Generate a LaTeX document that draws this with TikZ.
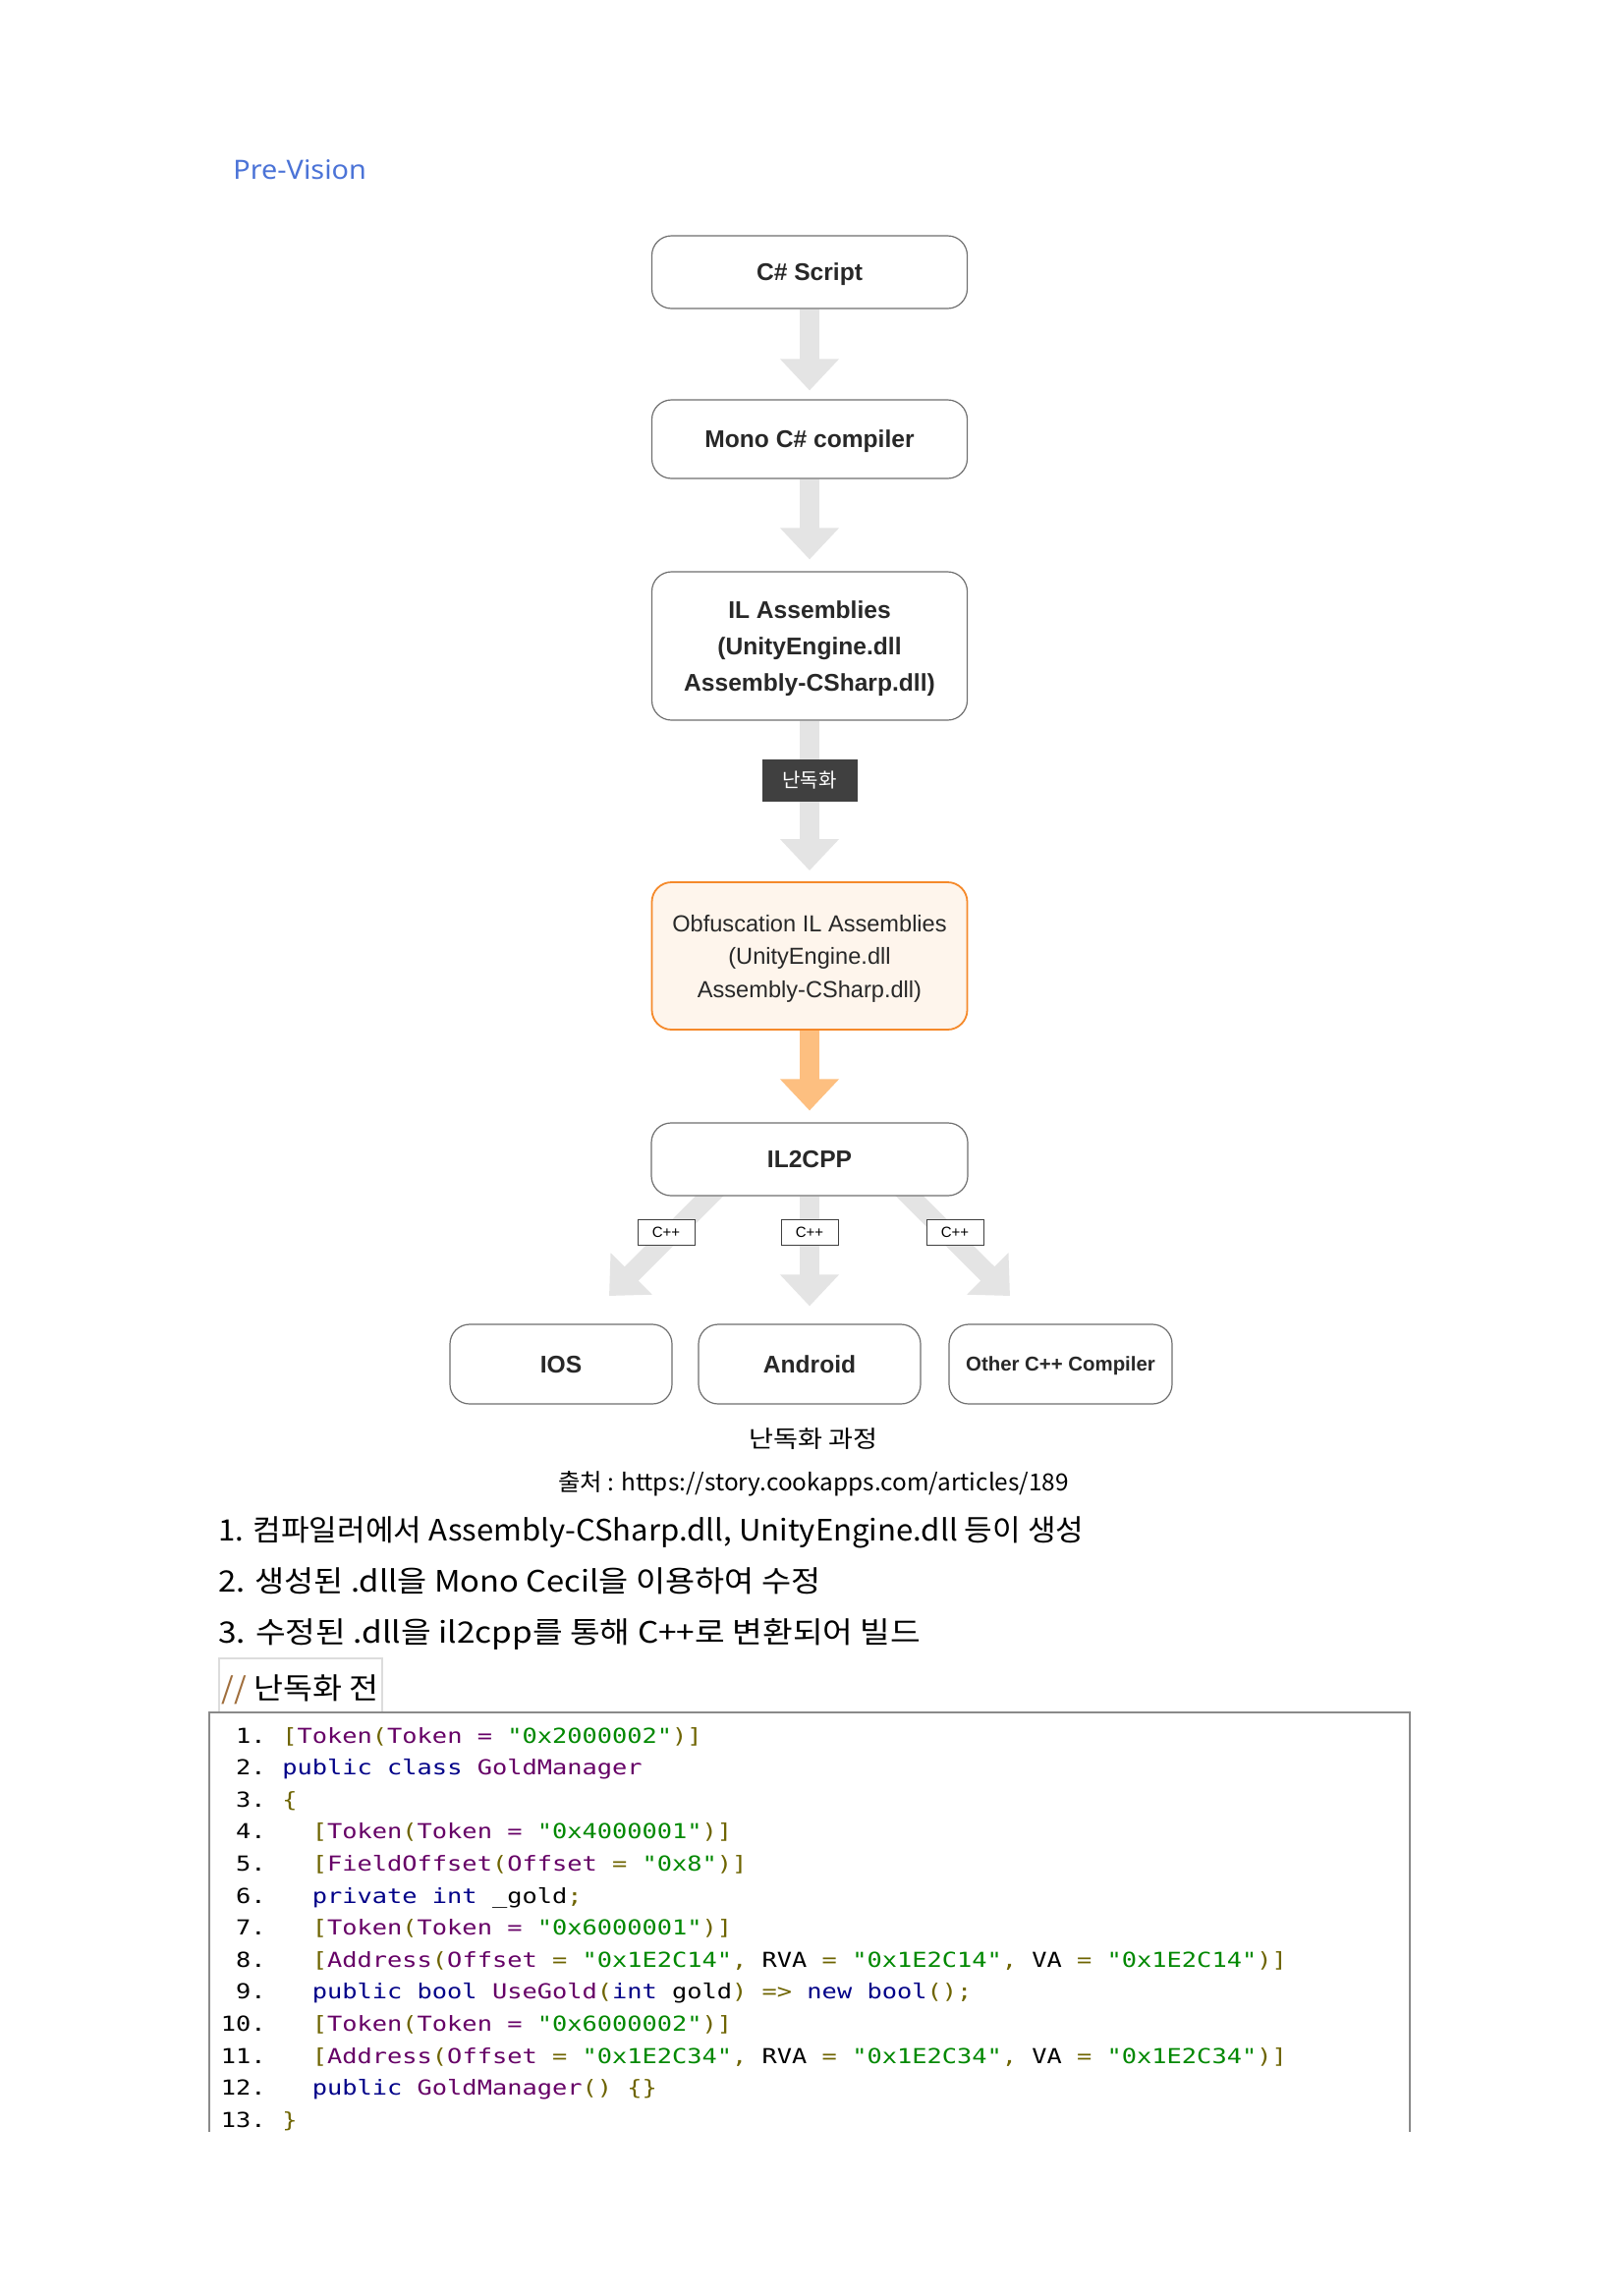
\documentclass[tikz,border=0pt]{standalone}
\usepackage{fontspec}
\usepackage{graphicx}
\usetikzlibrary{arrows.meta,backgrounds,calc}
\setmainfont{Liberation Sans}
\newfontfamily\krfont{Noto Sans CJK KR}
\newfontfamily\codefont{DejaVu Sans Mono}
\newfontfamily\prefont{Noto Sans}
\definecolor{arrgray}{RGB}{228,228,228}
\definecolor{orangearr}{RGB}{253,191,128}
\definecolor{orangeb}{RGB}{245,137,42}
\definecolor{orangef}{RGB}{254,245,236}
\definecolor{boxgray}{RGB}{112,112,112}
\definecolor{textdark}{RGB}{40,40,40}
\definecolor{labdark}{RGB}{64,64,64}
\definecolor{preblue}{RGB}{75,115,215}
\definecolor{codegray}{RGB}{138,138,138}
\definecolor{lightframe}{RGB}{220,220,220}
\definecolor{slashbrown}{RGB}{160,110,60}
\definecolor{ckw}{RGB}{0,0,136}
\definecolor{cpu}{RGB}{102,0,102}
\definecolor{col}{RGB}{110,100,0}
\definecolor{cst}{RGB}{0,136,0}
\newcommand{\cK}[1]{\textcolor{ckw}{#1}}
\newcommand{\cP}[1]{\textcolor{cpu}{#1}}
\newcommand{\cO}[1]{\textcolor{col}{#1}}
\newcommand{\cS}[1]{\textcolor{cst}{#1}}
\newcommand{\cl}[1]{\scalebox{1.207}[1]{\codefont\fontsize{10.5}{12}\selectfont #1}}
\newsavebox\fitbox
\newdimen\fitdim
\newcommand{\fitw}[2]{\sbox\fitbox{#2}\fitdim=\wd\fitbox\pgfmathsetmacro\fitr{#1/\fitdim}\scalebox{\fitr}[1]{\usebox\fitbox}}
\tikzset{
  box/.style={draw=boxgray, line width=0.6pt, rounded corners=10pt, fill=white, align=center,
    inner sep=0pt, text depth=0pt, text=textdark, font=\fontsize{12.3}{18.3}\selectfont\bfseries, minimum width=160.5pt},
  garrow/.style={draw=arrgray, line width=10pt, -{Triangle[width=29pt,length=16pt]}},
  oarrow/.style={draw=orangearr, line width=10pt, -{Triangle[width=29pt,length=16pt]}},
  cpp/.style={draw=labdark, line width=0.5pt, fill=white, inner sep=0pt, minimum width=29pt,
    minimum height=13pt, font=\fontsize{7.5}{8}\selectfont, text=black},
  num/.style={anchor=base east, inner sep=0pt},
  code/.style={anchor=base west, inner sep=0pt},
  txt/.style={inner sep=0pt}
}
\begin{document}
\begin{tikzpicture}[x=0.5pt,y=-0.5pt]
\useasboundingbox (0,0) rectangle (1653,2336);

\node[txt, anchor=base west, text=preblue] (pre) at (237,182) {\fitw{67.75}{\prefont\fontsize{13.5}{16}\selectfont Pre-Vision}};

% flow boxes
\node[box, minimum height=37pt] (cs) at (824,277) {C\# Script};
\node[box, minimum height=40pt] (mono) at (824,447) {Mono C\# compiler};
\node[box, minimum height=75.5pt] (il) at (824,657.5) {IL Assemblies\\(UnityEngine.dll\\Assembly-CSharp.dll)};
\node[box, minimum height=75pt, draw=orangeb, fill=orangef, line width=0.9pt,
  font=\fontsize{11.8}{16.75}\selectfont] (obf) at (824,973) {Obfuscation IL Assemblies\\(UnityEngine.dll\\Assembly-CSharp.dll)};
\node[box, minimum height=37pt, minimum width=161pt] (il2cpp) at (824,1180) {IL2CPP};
\node[box, minimum height=40.5pt, minimum width=113pt] (ios) at (571,1388.5) {IOS};
\node[box, minimum height=40.5pt, minimum width=113pt] (android) at (824,1388.5) {Android};
\node[box, minimum height=40.5pt, minimum width=113.5pt, font=\fontsize{10.2}{12}\selectfont\bfseries] (other) at (1079.5,1388.5) {Other C++ Compiler};

\node[fill=labdark, text=white, inner sep=0pt, minimum width=48.5pt, minimum height=21.5pt,
  font=\krfont\fontsize{10}{12}\selectfont] (lab) at (824,794.5) {난독화};

\node[cpp] (cppL) at (678,1254) {C++};
\node[cpp] (cppM) at (824,1254) {C++};
\node[cpp] (cppR) at (972,1254) {C++};

\coordinate (tipL) at (620,1319);
\coordinate (tipR) at (1028,1319);

\begin{scope}[on background layer]
\fill[white] (0,0) rectangle (1653,2336);
\draw[garrow, shorten >=4.5pt] (cs.south) -- (mono.north);
\draw[garrow, shorten >=6pt] (mono.south) -- (il.north);
\draw[garrow, shorten >=5.5pt] (il.south) -- (obf.north);
\draw[oarrow, shorten >=6pt] (obf.south) -- (il2cpp.north);
\draw[garrow, shorten >=9pt] (il2cpp.south) -- (android.north);
\draw[garrow] ($(il2cpp.south)+(-90,-12)$) -- (tipL);
\draw[garrow] ($(il2cpp.south)+(90,-12)$) -- (tipR);
\end{scope}

% captions
\node[txt, anchor=base] (cap) at (828,1473) {\fitw{65.5}{\krfont\fontsize{12}{14}\selectfont 난독화 과정}};
\node[txt, anchor=base] (src) at (828,1517) {\fitw{260}{\krfont\fontsize{12}{14}\selectfont 출처 : https://story.cookapps.com/articles/189}};

\node[txt, anchor=base west] (l1) at (222,1568) {\fitw{440.5}{\krfont\fontsize{15}{18}\selectfont 1. 컴파일러에서 Assembly-CSharp.dll, UnityEngine.dll 등이 생성}};
\node[txt, anchor=base west] (l2) at (222,1620) {\fitw{306.5}{\krfont\fontsize{15}{18}\selectfont 2. 생성된 .dll을 Mono Cecil을 이용하여 수정}};
\node[txt, anchor=base west] (l3) at (222,1672) {\fitw{357.5}{\krfont\fontsize{15}{18}\selectfont 3. 수정된 .dll을 il2cpp를 통해 C++로 변환되어 빌드}};

% comment label frame
\draw[lightframe, line width=0.75pt] (223,1742) -- (223,1688) -- (389,1688) -- (389,1742);
\node[txt, anchor=base west] (cm) at (225,1729) {\fitw{80}{\krfont\fontsize{15}{18}\selectfont \textcolor{slashbrown}{//} 난독화 전}};

% code frame
\draw[codegray, line width=1.35pt] (213,2170) -- (213,1743) -- (1435,1743) -- (1435,2170);

\node[num] (n1) at (271,1774) {\cl{1.}};
\node[num] (n2) at (271,1806.6) {\cl{2.}};
\node[num] (n3) at (271,1839.2) {\cl{3.}};
\node[num] (n4) at (271,1871.8) {\cl{4.}};
\node[num] (n5) at (271,1904.4) {\cl{5.}};
\node[num] (n6) at (271,1937) {\cl{6.}};
\node[num] (n7) at (271,1969.6) {\cl{7.}};
\node[num] (n8) at (271,2002.2) {\cl{8.}};
\node[num] (n9) at (271,2034.8) {\cl{9.}};
\node[num] (n10) at (271,2067.4) {\cl{10.}};
\node[num] (n11) at (271,2100) {\cl{11.}};
\node[num] (n12) at (271,2132.6) {\cl{12.}};
\node[num] (n13) at (271,2165.2) {\cl{13.}};

\node[code] (c1) at (287,1774) {\cl{\cO{[}\cP{Token}\cO{(}\cP{Token =} \cS{"0x2000002"}\cO{)]}}};
\node[code] (c2) at (287,1806.6) {\cl{\cK{public class} \cP{GoldManager}}};
\node[code] (c3) at (287,1839.2) {\cl{\cO{\{}}};
\node[code] (c4) at (317.5,1871.8) {\cl{\cO{[}\cP{Token}\cO{(}\cP{Token =} \cS{"0x4000001"}\cO{)]}}};
\node[code] (c5) at (317.5,1904.4) {\cl{\cO{[}\cP{FieldOffset}\cO{(}\cP{Offset} \cO{=} \cS{"0x8"}\cO{)]}}};
\node[code] (c6) at (317.5,1937) {\cl{\cK{private int} \_gold\cO{;}}};
\node[code] (c7) at (317.5,1969.6) {\cl{\cO{[}\cP{Token}\cO{(}\cP{Token =} \cS{"0x6000001"}\cO{)]}}};
\node[code] (c8) at (317.5,2002.2) {\cl{\cO{[}\cP{Address}\cO{(}\cP{Offset} \cO{=} \cS{"0x1E2C14"}\cO{,} RVA \cO{=} \cS{"0x1E2C14"}\cO{,} VA \cO{=} \cS{"0x1E2C14"}\cO{)]}}};
\node[code] (c9) at (317.5,2034.8) {\cl{\cK{public bool} \cP{UseGold}\cO{(}\cK{int} gold\cO{)} \cO{=>} \cK{new bool}\cO{();}}};
\node[code] (c10) at (317.5,2067.4) {\cl{\cO{[}\cP{Token}\cO{(}\cP{Token =} \cS{"0x6000002"}\cO{)]}}};
\node[code] (c11) at (317.5,2100) {\cl{\cO{[}\cP{Address}\cO{(}\cP{Offset} \cO{=} \cS{"0x1E2C34"}\cO{,} RVA \cO{=} \cS{"0x1E2C34"}\cO{,} VA \cO{=} \cS{"0x1E2C34"}\cO{)]}}};
\node[code] (c12) at (317.5,2132.6) {\cl{\cK{public} \cP{GoldManager}\cO{()} \cO{\{\}}}};
\node[code] (c13) at (287,2165.2) {\cl{\cO{\}}}};
\end{tikzpicture}
\end{document}
